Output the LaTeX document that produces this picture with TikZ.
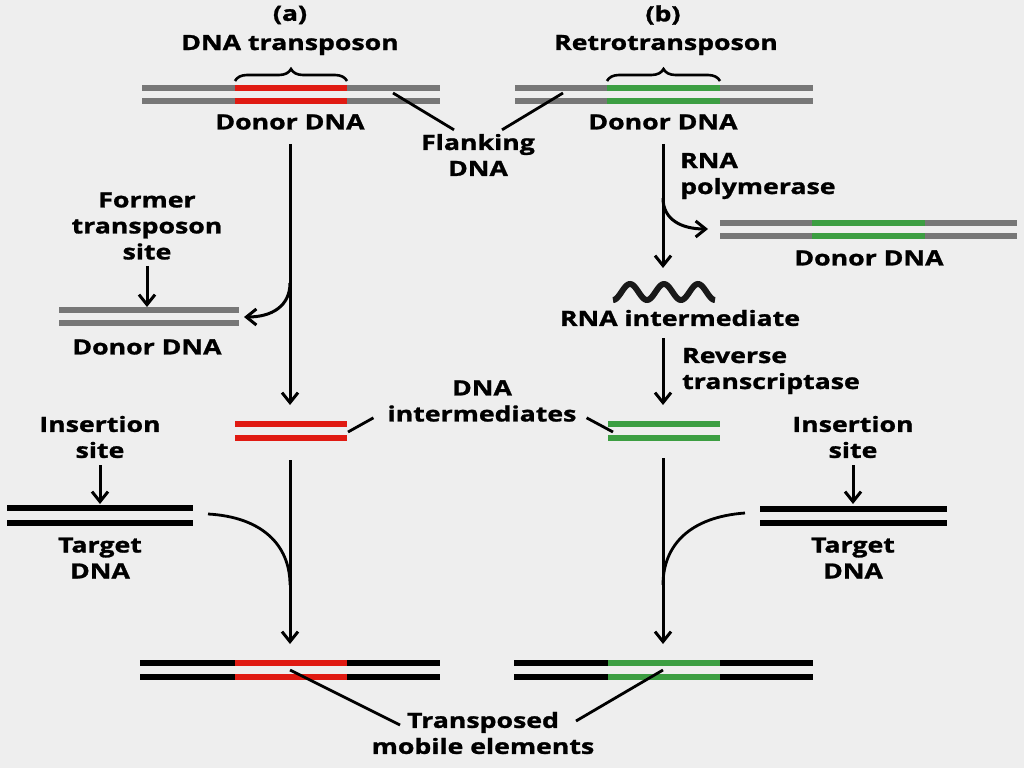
\documentclass[tikz,border=0pt]{standalone}
\usepackage{fontspec}
\setmainfont[FakeStretch=1.27, BoldFeatures={FakeBold=1.3}]{Open Sans}
\usetikzlibrary{arrows.meta,decorations.pathreplacing}
\definecolor{bgcol}{HTML}{EEEEEE}
\definecolor{flankgray}{HTML}{777777}
\definecolor{tred}{HTML}{E01A12}
\definecolor{tgreen}{HTML}{3C9E42}
\def\strands[#1](#2:#3:#4:#5){\draw[strand,#1] (#2,#4) -- (#3,#4); \draw[strand,#1] (#2,#5) -- (#3,#5);}

\begin{document}
\begin{tikzpicture}[x=1pt,y=-1pt,
    strand/.style={line width=6.5pt},
    lbl/.style={font=\fontsize{21}{26}\selectfont\bfseries, align=center, inner sep=0pt},
    arr/.style={line width=3pt, -{Straight Barb[length=10pt,width=16pt]}},
    pointer/.style={line width=2.8pt},
    brc/.style={line width=2.6pt, decorate, decoration={brace, amplitude=12pt}}]
			%%%%% START %%%%%
			\def\xa{290}
			\def\xb{663}
			\def\rnaw{34}
			
			\useasboundingbox (0,0) rectangle (1024,768);
			\fill[bgcol] (0,0) rectangle (1024,768);
			
			% (a) DNA transposon
			\node[lbl] (labA) at (\xa,15) {(a)};
			\node[lbl] (nameA) at (\xa,45) {DNA transposon};
			\strands[flankgray](142:440:88:101)
			\strands[tred](235:347:88:101)
			\draw[brc] (235,81) -- (347,81);
			\node[lbl] (donorA) at (\xa,122) {Donor DNA};
			
			% (b) Retrotransposon
			\node[lbl] (labB) at (\xb,15) {(b)};
			\node[lbl] (nameB) at (\xb+3,45) {Retrotransposon};
			\strands[flankgray](515:813:88:101)
			\strands[tgreen](607:720:88:101)
			\draw[brc] (607,81) -- (720,81);
			\node[lbl] (donorB) at (\xb,122) {Donor DNA};
			
			% flanking DNA
			\node[lbl] (flank) at (478,155) {Flanking\\DNA};
			\coordinate (flankA) at (393,93);
			\coordinate (flankB) at (563,93);
			\draw[pointer] (flankA) -- ([shift={(-24pt,4pt)}]flank.north);
			\draw[pointer] (flankB) -- ([shift={(24pt,4pt)}]flank.north);
			
			% left column
			\coordinate (intA) at (\xa,421);
			\draw[arr] ([yshift=-14pt]donorA.south) -- ([yshift=16pt]intA);
			\node[lbl] (former) at (147,226) {Former\\transposon\\site};
			\strands[flankgray](59:239:310:323)
			\coordinate (oldsite) at (147,307);
			\coordinate (oldD) at (239,317);
			\draw[arr] ([yshift=-6pt]former.south) -- (oldsite);
			\draw[arr] (\xa,283) .. controls (\xa,306) and (272,317) .. ([xshift=5pt]oldD);
			\node[lbl] (donorS) at (147,347) {Donor DNA};
			
			\strands[tred](235:347:424:438)
			
			\node[lbl] (insA) at (100,437) {Insertion\\site};
			\strands[black](7:193:508:523)
			\coordinate (siteA) at (100,504);
			\draw[arr] ([yshift=-7pt]insA.south) -- (siteA);
			\node[lbl] (targetA) at (100,558) {Target\\DNA};
			\coordinate (endA) at (\xa,644);
			\draw[arr] (\xa,460) -- (endA);
			\draw[pointer] (208,514) .. controls (262,517) and (\xa,545) .. (\xa,585);
			
			\strands[black](140:440:663:677)
			\strands[tred](235:347:663:677)
			
			% right column
			\coordinate (rnaTop) at (\xb,268);
			\draw[arr] ([yshift=-14pt]donorB.south) -- (rnaTop);
			\node[lbl, anchor=west, align=left] (polym) at (680,176) {RNA\\polymerase};
			\strands[flankgray](720:1017:223:236)
			\strands[tgreen](812:925:223:236)
			\coordinate (donC) at (720,229);
			\draw[arr] (\xb,198) .. controls (\xb,220) and (682,229) .. ([xshift=-12pt]donC);
			\node[lbl] (donorC) at (869,258) {Donor DNA};
			
			\draw[line width=6pt, black!90] plot[domain=0:3, samples=90] ({613+\x*\rnaw},{292+8*cos(360*\x)});
			\node[lbl] (rnaint) at (680,318) {RNA intermediate};
			
			\coordinate (intB) at (\xb,421);
			\draw[arr] ([yshift=-12pt]rnaint.south -| intB) -- ([yshift=16pt]intB);
			\node[lbl, anchor=west, align=left] (revtr) at (682,371) {Reverse\\transcriptase};
			\strands[tgreen](608:720:424:438)
			
			\node[lbl] (insB) at (853,437) {Insertion\\site};
			\strands[black](760:947:509:523)
			\coordinate (siteB) at (853,504);
			\draw[arr] ([yshift=-7pt]insB.south) -- (siteB);
			\node[lbl] (targetB) at (853,558) {Target\\DNA};
			\coordinate (endB) at (\xb,644);
			\draw[arr] (\xb,458) -- (endB);
			\draw[pointer] (745,513) .. controls (690,517) and (\xb,545) .. (\xb,585);
			
			\strands[black](514:813:663:677)
			\strands[tgreen](608:720:663:677)
			
			% DNA intermediates
			\node[lbl] (interm) at (482,401) {DNA\\intermediates};
			\draw[pointer] (348,432) -- ([shift={(-14pt,4pt)}]interm.south west);
			\draw[pointer] (613,432) -- ([shift={(10pt,4pt)}]interm.south east);
			\node[lbl] (transp) at (483,733) {Transposed\\mobile elements};
			\coordinate (tpL) at (400,725);
			\coordinate (tpR) at (576,721);
			\draw[pointer] (\xa,670) -- (tpL);
			\draw[pointer] (\xb,670) -- (tpR);
			%%%%% END %%%%%
\end{tikzpicture}
\end{document}
